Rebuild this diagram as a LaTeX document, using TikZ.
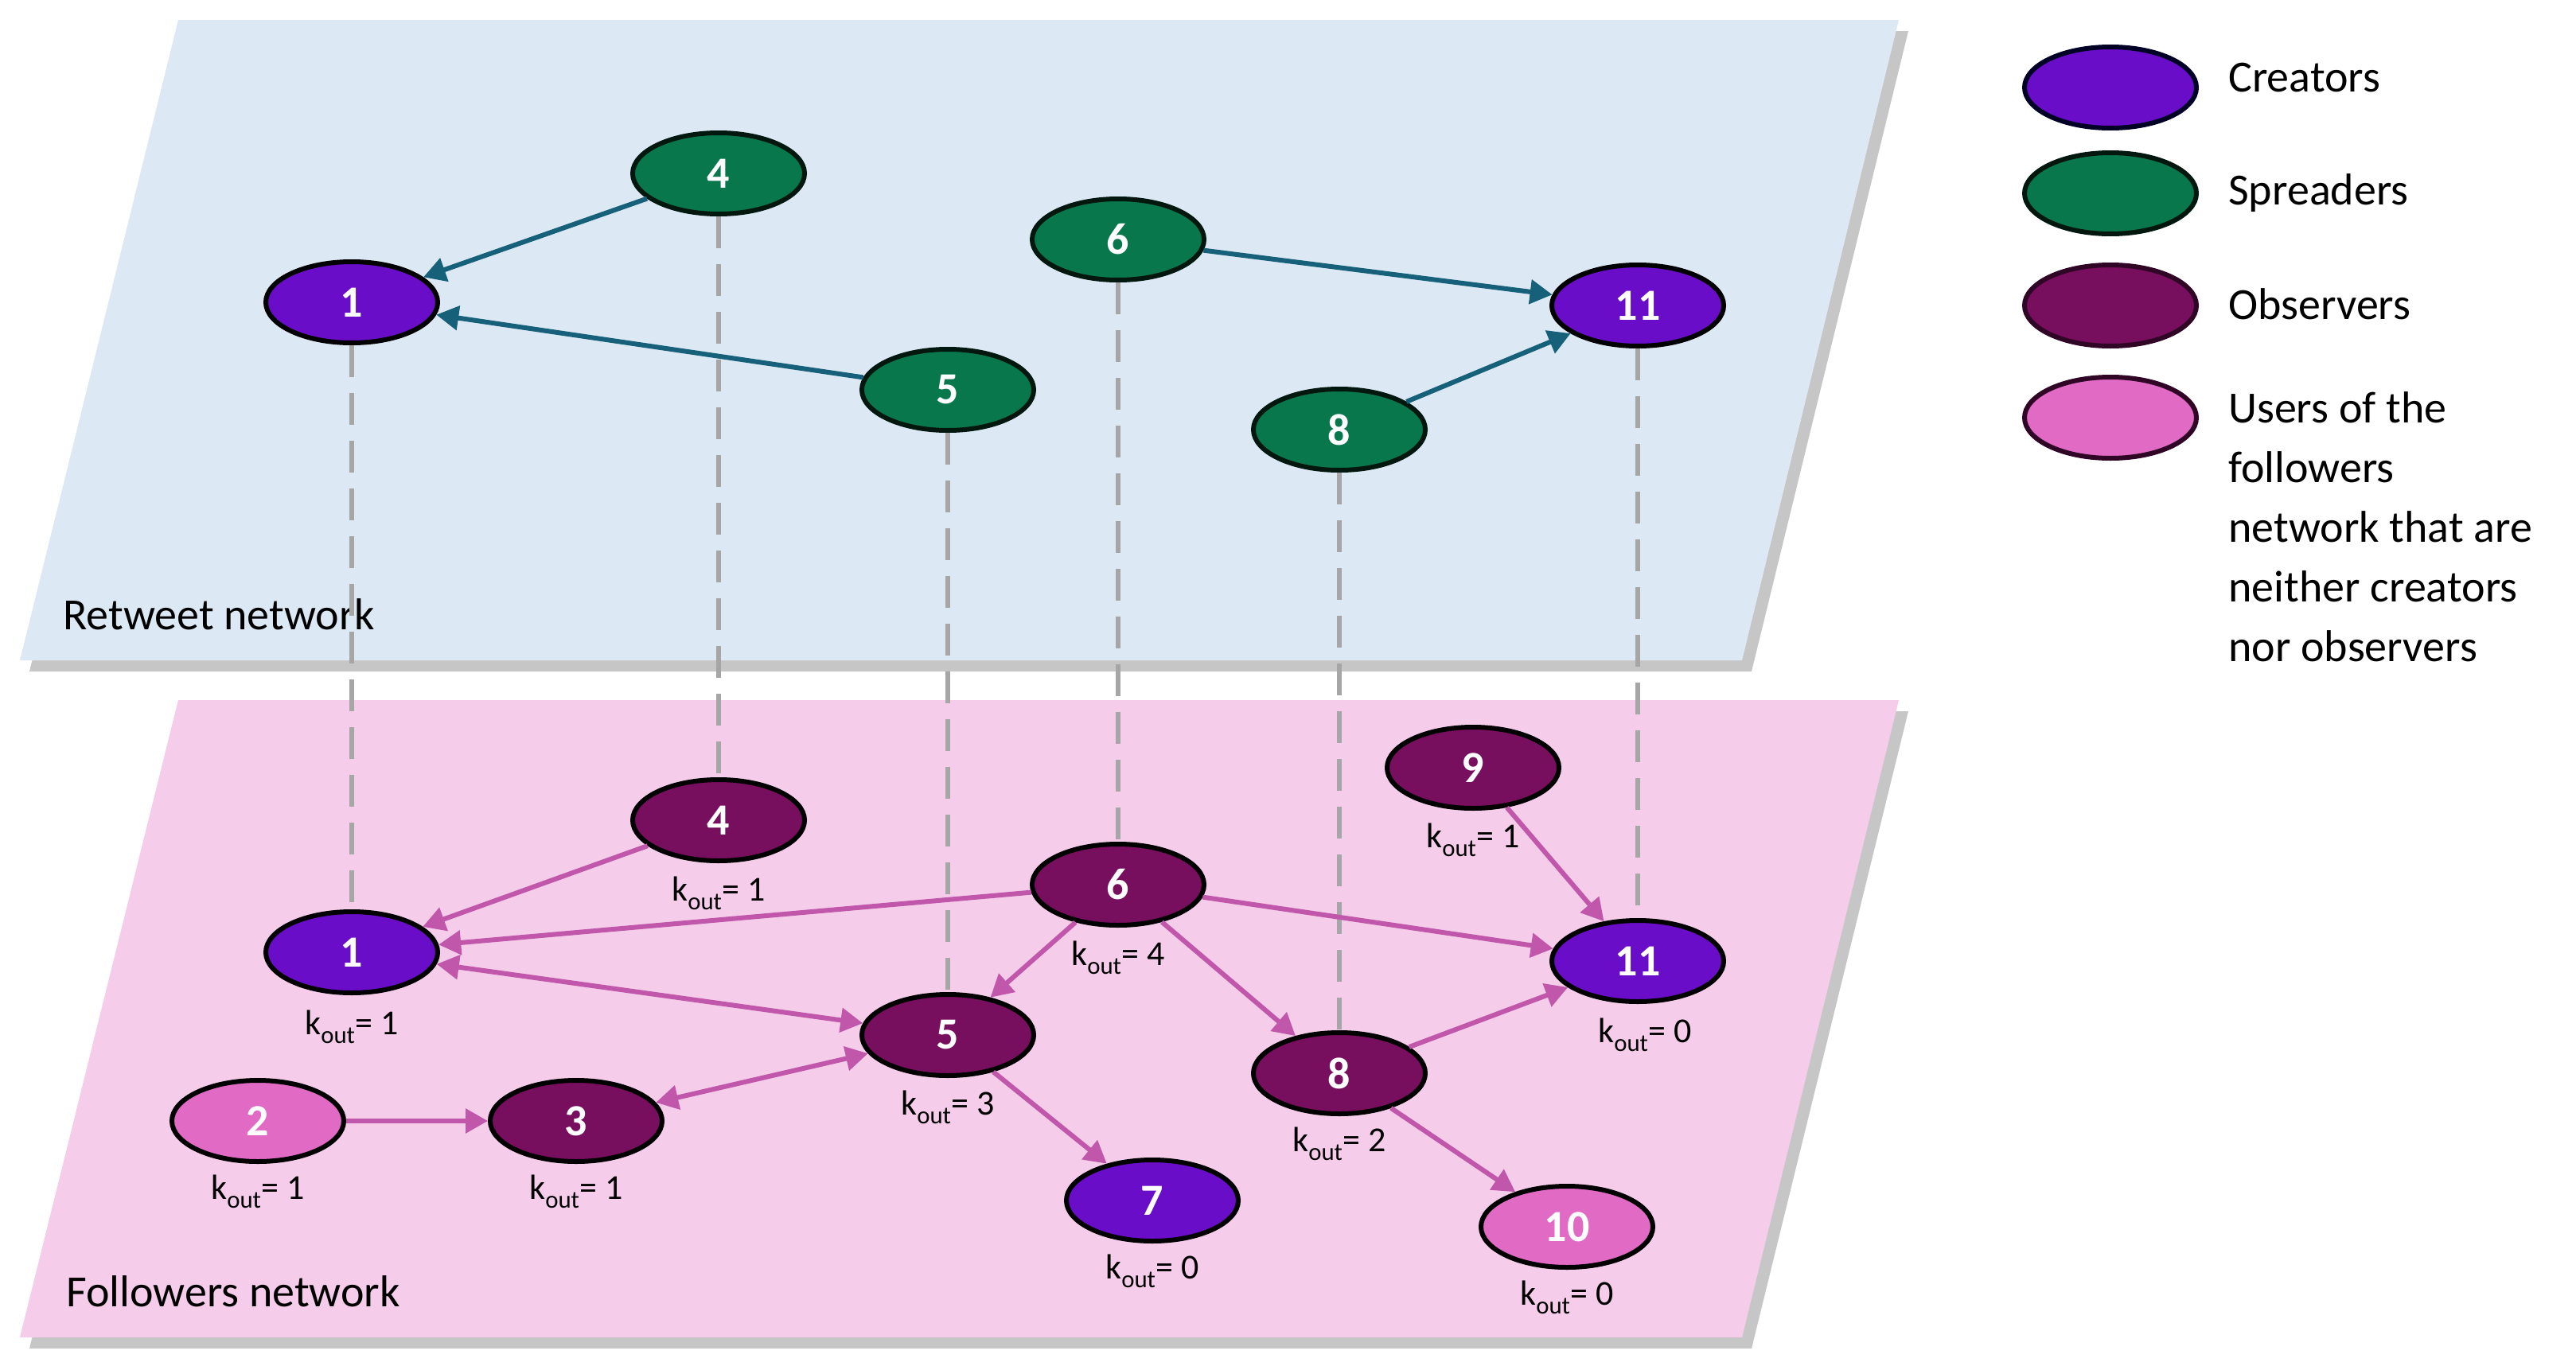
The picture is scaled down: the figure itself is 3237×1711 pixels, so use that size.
\documentclass[tikz,border=0pt]{standalone}
\usepackage{fontspec}
\setmainfont{Carlito}
\usetikzlibrary{shapes.geometric,arrows.meta}
\definecolor{cre}{HTML}{6A0DC8}
\definecolor{spr}{HTML}{08784C}
\definecolor{obs}{HTML}{780E5E}
\definecolor{usr}{HTML}{E06AC4}
\definecolor{topbg}{HTML}{DCE9F5}
\definecolor{botbg}{HTML}{F5CCEA}
\definecolor{tedge}{HTML}{17607A}
\definecolor{pedge}{HTML}{C057AA}
\tikzset{
 nd/.style={ellipse,minimum width=216pt,minimum height=102pt,inner sep=0pt,line width=6pt,draw=black,text=white,font=\fontsize{56}{60}\selectfont\bfseries},
 creN/.style={nd,fill=cre},
 sprN/.style={nd,fill=spr,draw=black!80!spr},
 obsN/.style={nd,fill=obs},
 usrN/.style={nd,fill=usr},
 kl/.style={font=\fontsize{44}{48}\selectfont,inner sep=0pt},
 te/.style={draw=tedge,line width=6pt,-{Triangle[length=28pt,width=30pt]}},
 pe/.style={draw=pedge,line width=6pt,-{Triangle[length=28pt,width=30pt]}},
 pe2/.style={pe,{Triangle[length=28pt,width=30pt]}-{Triangle[length=28pt,width=30pt]}},
 vd/.style={draw=gray!70,line width=6pt,dash pattern=on 40pt off 20pt},
 lab/.style={font=\fontsize{56}{75}\selectfont,anchor=west,inner sep=0pt},
}
\begin{document}
\begin{tikzpicture}[x=1pt,y=-1pt]
\useasboundingbox (0,0) rectangle (3237,1711);
% shadows
\fill[gray!45] (236,39) -- (2398,39) -- (2201,844) -- (37,844) -- cycle;
\fill[gray!45] (236,894) -- (2398,894) -- (2201,1695) -- (37,1695) -- cycle;
\fill[topbg] (224,25) -- (2386,25) -- (2189,830) -- (25,830) -- cycle;
\fill[botbg] (224,880) -- (2386,880) -- (2189,1681) -- (25,1681) -- cycle;
\node[lab] (rt) at (79,772) {Retweet network};
\node[lab] (fn) at (83,1623) {Followers network};
% bottom nodes
\node[obsN] (b4) at (903,1031) {4};
\node[creN] (b1) at (442,1197) {1};
\node[obsN] (b6) at (1405,1112) {6};
\node[obsN] (b5) at (1191,1301) {5};
\node[obsN] (b9) at (1851,965) {9};
\node[creN] (b11) at (2058,1208) {11};
\node[obsN] (b8) at (1683,1349) {8};
\node[usrN] (b2) at (324,1409) {2};
\node[obsN] (b3) at (724,1409) {3};
\node[creN] (b7) at (1448,1509) {7};
\node[usrN] (b10) at (1969,1542) {10};
% top nodes
\node[sprN] (t4) at (903,218) {4};
\node[creN] (t1) at (442,380) {1};
\node[sprN] (t6) at (1405,301) {6};
\node[sprN] (t5) at (1191,490) {5};
\node[creN] (t11) at (2058,384) {11};
\node[sprN] (t8) at (1683,540) {8};
% dashed
\foreach \n in {1,4,5,6,8,11} \draw[vd] (t\n) -- (b\n);
% kout
\node[kl] (k4) at (903,1123) {k\textsubscript{out}= 1};
\node[kl] (k1) at (442,1291) {k\textsubscript{out}= 1};
\node[kl] (k6) at (1405,1204) {k\textsubscript{out}= 4};
\node[kl] (k5) at (1191,1392) {k\textsubscript{out}= 3};
\node[kl] (k9) at (1851,1056) {k\textsubscript{out}= 1};
\node[kl] (k11) at (2067,1301) {k\textsubscript{out}= 0};
\node[kl] (k8) at (1683,1438) {k\textsubscript{out}= 2};
\node[kl] (k2) at (324,1498) {k\textsubscript{out}= 1};
\node[kl] (k3) at (724,1498) {k\textsubscript{out}= 1};
\node[kl] (k7) at (1448,1598) {k\textsubscript{out}= 0};
\node[kl] (k10) at (1969,1631) {k\textsubscript{out}= 0};
% top edges
\draw[te] (t4) -- (t1);
\draw[te] (t5) -- (t1);
\draw[te] (t6) -- (t11);
\draw[te] (t8) -- (t11);
% bottom edges
\draw[pe] (b4) -- (b1);
\draw[pe] (b6) -- (b1);
\draw[pe2] (b1) -- (b5);
\draw[pe] (b6) -- (b5);
\draw[pe] (b6) -- (b11);
\draw[pe] (b6) -- (b8);
\draw[pe] (b5) -- (b7);
\draw[pe2] (b3) -- (b5);
\draw[pe] (b2) -- (b3);
\draw[pe] (b9) -- (b11);
\draw[pe] (b8) -- (b11);
\draw[pe] (b8) -- (b10);
% legend
\node[creN,draw=black!85!blue] (l1) at (2652,110) {};
\node[sprN] (l2) at (2652,243) {};
\node[obsN,draw=black!60!obs] (l3) at (2652,384) {};
\node[usrN,draw=black!60!obs] (l4) at (2652,525) {};
\node[lab] (lt1) at (2800,98) {Creators};
\node[lab] (lt2) at (2800,243) {Spreaders};
\node[lab] (lt3) at (2800,382) {Observers};
\node[lab,anchor=north west,align=left] (lt4) at (2800,492) {Users of the\\followers\\network that are\\neither creators\\nor observers};
\end{tikzpicture}
\end{document}
